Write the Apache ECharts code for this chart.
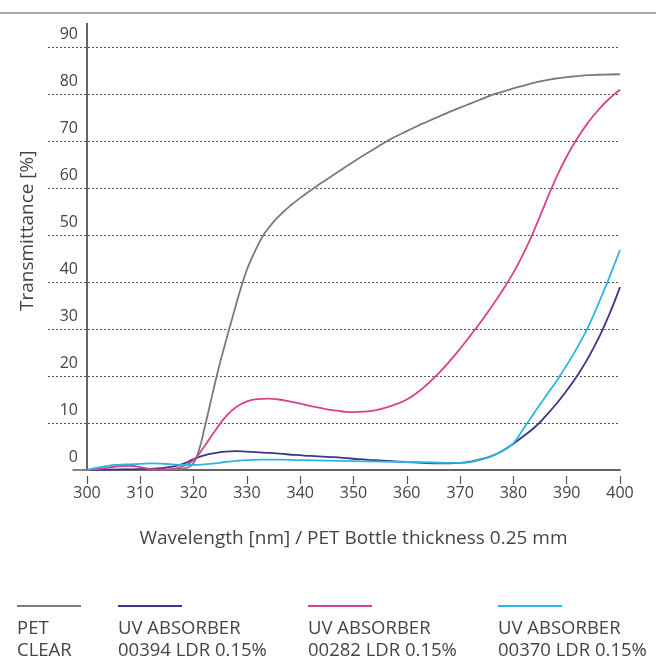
<!DOCTYPE html>
<html><head><meta charset="utf-8">
<script src="https://cdn.jsdelivr.net/npm/echarts@6/dist/echarts.min.js"></script>
<style>html,body{margin:0;padding:0;background:#fff}#c{width:656px;height:661px}</style>
</head><body><div id="c"></div>
<script>
const wavelengthTicks = [300,310,320,330,340,350,360,370,380,390,400];
const transmittanceTicks = [0,10,20,30,40,50,60,70,80,90];
const legendLine1 = ['PET', 'UV ABSORBER', 'UV ABSORBER', 'UV ABSORBER'];
const legendLine2 = ['CLEAR', '00394 LDR 0.15%', '00282 LDR 0.15%', '00370 LDR 0.15%'];
const seriesColors = ['#7a7a7a', '#3b3687', '#d8418d', '#2bb6e4'];

const petClear = [[300,0],[305,0.1],[310,0.1],[315,0.1],[318,0.3],[319,0.6],[320,1.5],[321,4.2],[322,8.7],[323,13.5],[324,18.4],[325,23.0],[326,27.2],[327,31.3],[328,35.3],[329,39.2],[330,42.6],[331,45.3],[332,47.7],[333,49.8],[334,51.4],[335,52.8],[336,54.0],[337,55.1],[338,56.1],[339,57.0],[340,57.9],[342,59.5],[344,61.1],[346,62.6],[348,64.1],[350,65.6],[352,67.0],[354,68.4],[356,69.8],[358,71.0],[360,72.1],[362,73.2],[364,74.2],[366,75.2],[368,76.2],[370,77.1],[372,78.0],[374,78.9],[376,79.8],[378,80.5],[380,81.2],[382,81.8],[384,82.4],[386,82.9],[388,83.3],[390,83.6],[392,83.8],[394,84.0],[396,84.1],[398,84.15],[400,84.2]];
const uv00394 = [[300,0],[305,0.1],[310,0.2],[314,0.4],[316,0.7],[318,1.3],[320,2.3],[322,3.1],[324,3.6],[326,3.9],[328,4.0],[330,3.9],[333,3.7],[336,3.5],[339,3.2],[342,3.0],[345,2.8],[348,2.6],[351,2.3],[354,2.1],[357,1.9],[360,1.7],[363,1.5],[366,1.4],[368,1.4],[370,1.5],[372,1.8],[374,2.3],[376,3.0],[378,4.1],[380,5.6],[382,7.3],[384,9.1],[386,11.4],[388,14.0],[390,16.9],[392,20.1],[394,23.8],[396,28.1],[398,33.1],[400,38.9]];
const uv00282 = [[300,0],[302,0.2],[304,0.5],[306,0.8],[308,0.9],[310,0.6],[312,0.2],[314,0.05],[316,0.2],[318,0.8],[320,2.1],[322,5.0],[324,8.3],[326,11.3],[328,13.4],[330,14.6],[332,15.1],[334,15.2],[336,15.0],[338,14.6],[340,14.1],[342,13.6],[344,13.15],[346,12.75],[348,12.45],[350,12.3],[352,12.4],[354,12.7],[356,13.25],[358,14.0],[360,15.0],[362,16.5],[364,18.4],[366,20.6],[368,23.1],[370,25.8],[372,28.7],[374,31.7],[376,34.9],[378,38.3],[380,42.0],[382,46.3],[384,51.3],[386,56.8],[388,62.1],[390,66.7],[392,70.6],[394,73.9],[396,76.7],[398,79.0],[400,80.9]];
const uv00370 = [[300,0],[302,0.5],[304,0.9],[306,1.1],[308,1.2],[310,1.3],[312,1.4],[314,1.35],[316,1.2],[318,1.1],[320,1.1],[322,1.2],[324,1.4],[326,1.7],[328,1.95],[330,2.1],[333,2.2],[336,2.2],[340,2.1],[345,2.0],[350,1.9],[355,1.8],[360,1.7],[365,1.6],[368,1.5],[370,1.5],[372,1.7],[374,2.2],[376,3.0],[378,4.1],[380,5.7],[382,9.0],[384,12.3],[386,15.6],[388,18.8],[390,22.3],[392,26.1],[394,30.4],[396,35.5],[398,41.0],[400,46.8]];

const FONT = '"Open Sans"';
const TXT = '#454545';
const seriesData = [petClear, uv00394, uv00282, uv00370];

const chart = echarts.init(document.getElementById('c'), null, {renderer: 'canvas'});

const legendGraphics = [];
const legendX = [17, 118, 308, 498];
for (let i = 0; i < 4; i++) {
  legendGraphics.push({
    type: 'rect', left: legendX[i], top: 605, shape: {width: 64, height: 2},
    style: {fill: seriesColors[i]}
  });
  legendGraphics.push({
    type: 'text', left: legendX[i], top: 618,
    style: {text: legendLine1[i] + '\n' + legendLine2[i], font: '18.5px ' + FONT, fill: TXT, lineHeight: 22}
  });
}

chart.setOption({
  animation: false,
  backgroundColor: '#fff',
  grid: [
    {left: 87, right: 36, top: 23.5, bottom: 191},
    {left: 48, right: 36, top: 23.5, bottom: 191},
    {left: 73, right: 36, top: 23.5, bottom: 191}
  ],
  xAxis: [
    {
      type: 'value', gridIndex: 0, min: 300, max: 400, interval: 10,
      axisLine: {show: true, lineStyle: {color: '#5a5a5a', width: 1.5}},
      axisTick: {show: false},
      splitLine: {show: false},
      axisLabel: {margin: 15, fontFamily: FONT, fontSize: 16, color: TXT},
      name: 'Wavelength [nm] / PET Bottle thickness 0.25 mm',
      nameLocation: 'middle', nameGap: 59,
      nameTextStyle: {fontFamily: FONT, fontSize: 19, color: TXT}
    },
    {type: 'value', gridIndex: 1, min: 300, max: 400, show: false},
    {
      type: 'value', gridIndex: 2, min: 300, max: 400,
      axisLine: {show: true, lineStyle: {color: '#5a5a5a', width: 1.5}},
      axisTick: {show: false}, axisLabel: {show: false}, splitLine: {show: false}
    },
    {
      type: 'value', gridIndex: 0, min: 300, max: 400, interval: 10, position: 'bottom', offset: 6,
      axisLine: {show: false},
      axisTick: {show: true, length: 8, lineStyle: {color: '#555', width: 1.2}},
      axisLabel: {show: false}, splitLine: {show: false}
    }
  ],
  yAxis: [
    {
      type: 'value', gridIndex: 0, min: 0, max: 95, interval: 10,
      axisLine: {show: true, lineStyle: {color: '#333', width: 1.5}},
      axisTick: {show: false},
      splitLine: {show: false},
      axisLabel: {
        margin: 9, fontFamily: FONT, fontSize: 16, color: TXT,
        verticalAlign: 'bottom', lineHeight: 26,
        formatter: v => transmittanceTicks.includes(v) ? String(v) : ''
      },
      name: 'Transmittance [%]', nameLocation: 'middle', nameGap: 50,
      nameTextStyle: {fontFamily: FONT, fontSize: 19, color: TXT, padding: [0, 0, 0, 32]}
    },
    {
      type: 'value', gridIndex: 1, min: 0, max: 95, interval: 10,
      axisLine: {show: false}, axisTick: {show: false}, axisLabel: {show: false},
      splitLine: {show: true, showMinLine: false, showMaxLine: false, lineStyle: {color: '#555', width: 1, type: [2, 2]}}
    },
    {type: 'value', gridIndex: 2, min: 0, max: 95, show: false}
  ],
  series: seriesData.map((d, i) => ({
    type: 'line', xAxisIndex: 0, yAxisIndex: 0, data: d,
    smooth: 0.5, symbol: 'none',
    lineStyle: {color: seriesColors[i], width: 1.8},
    z: 3 + i
  })),
  graphic: [
    {type: 'rect', left: 0, top: 12, shape: {width: 656, height: 2}, style: {fill: '#aaaaaa'}}
  ].concat(legendGraphics)
});
</script>
</body></html>
